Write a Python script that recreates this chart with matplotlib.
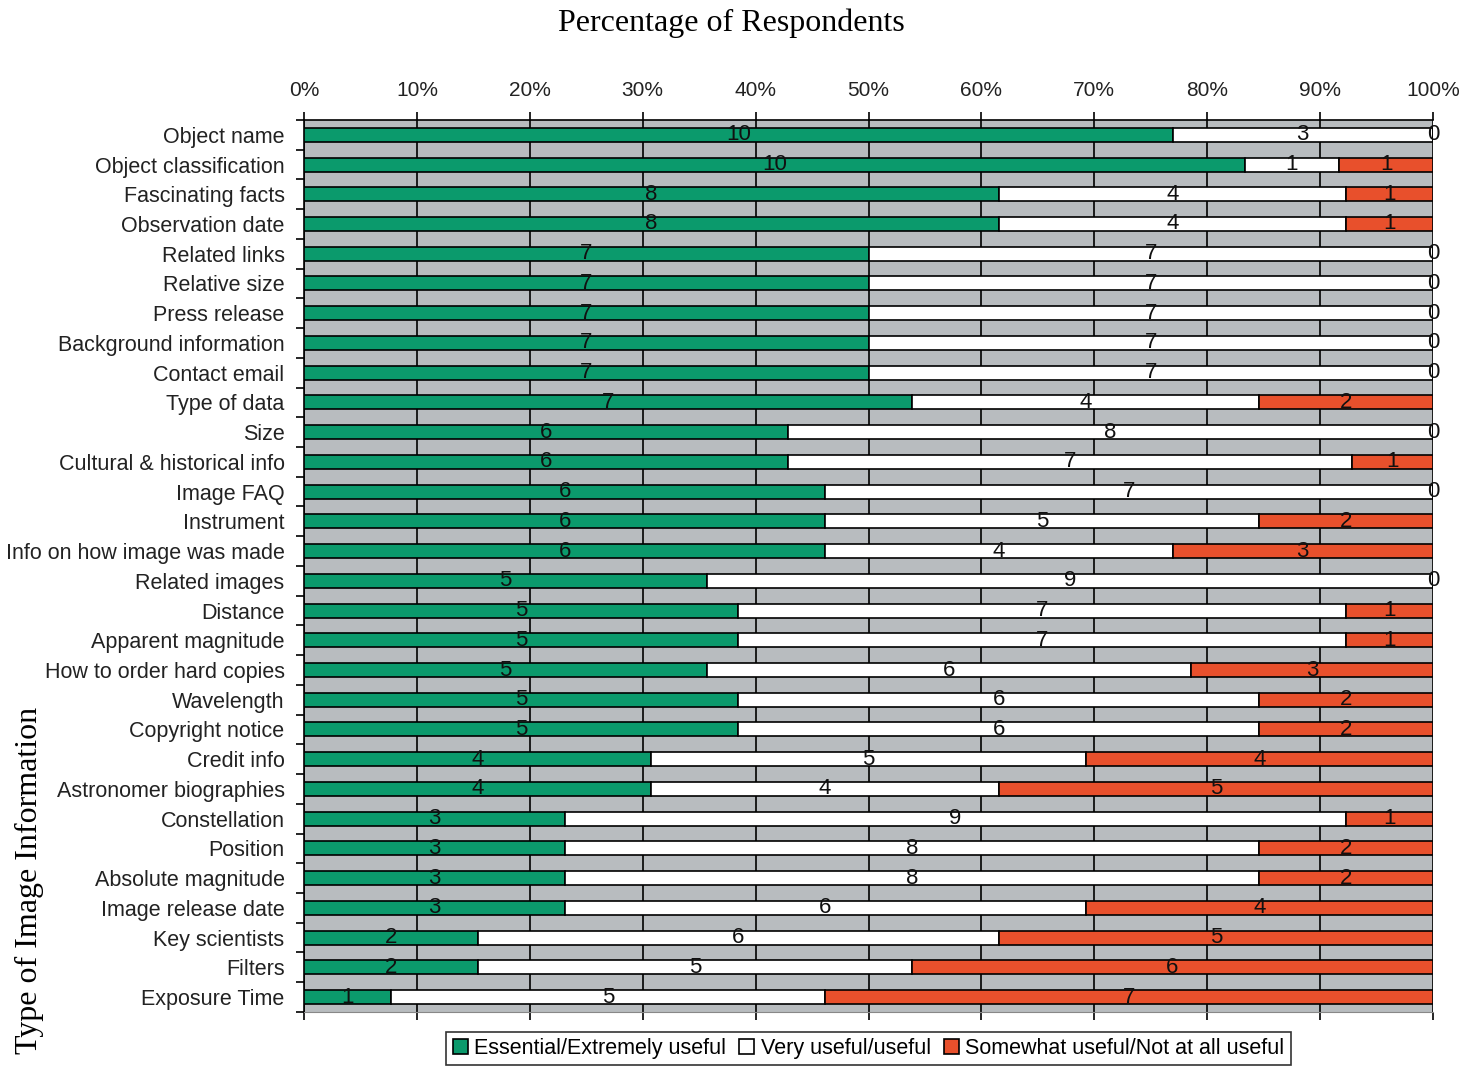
import matplotlib.pyplot as plt
import numpy as np

categories = [
    "Object name", "Object classification", "Fascinating facts", "Observation date",
    "Related links", "Relative size", "Press release", "Background information",
    "Contact email", "Type of data", "Size", "Cultural & historical info",
    "Image FAQ", "Instrument", "Info on how image was made", "Related images",
    "Distance", "Apparent magnitude", "How to order hard copies", "Wavelength",
    "Copyright notice", "Credit info", "Astronomer biographies", "Constellation",
    "Position", "Absolute magnitude", "Image release date", "Key scientists",
    "Filters", "Exposure Time",
]

# number of respondents per rating group
essential = [10, 10, 8, 8, 7, 7, 7, 7, 7, 7, 6, 6, 6, 6, 6, 5, 5, 5, 5, 5, 5, 4, 4, 3, 3, 3, 3, 2, 2, 1]
useful = [3, 1, 4, 4, 7, 7, 7, 7, 7, 4, 8, 7, 7, 5, 4, 9, 7, 7, 6, 6, 6, 5, 4, 9, 8, 8, 6, 6, 5, 5]
not_useful = [0, 1, 1, 1, 0, 0, 0, 0, 0, 2, 0, 1, 0, 2, 3, 0, 1, 1, 3, 2, 2, 4, 5, 1, 2, 2, 4, 5, 6, 7]

series_names = ["Essential/Extremely useful", "Very useful/useful", "Somewhat useful/Not at all useful"]
colors = ["#0b9a6c", "#ffffff", "#e8502c"]
x_ticks = [0, 10, 20, 30, 40, 50, 60, 70, 80, 90, 100]

plt.rcParams["font.family"] = ["Liberation Sans", "DejaVu Sans"]


def plot_data():
    counts = np.array([essential, useful, not_useful], dtype=float)
    pct = counts / counts.sum(axis=0) * 100
    y = np.arange(len(categories))

    fig = plt.figure(figsize=(14.78, 10.67), dpi=100)
    ax = fig.add_axes([0.2057, 0.0516, 0.7639, 0.836])
    ax.set_facecolor("#b8bcbf")

    left = np.zeros(len(categories))
    for i in range(3):
        ax.barh(y, pct[i], left=left, height=0.47, color=colors[i],
                edgecolor="black", linewidth=1.2, label=series_names[i], zorder=3)
        for j in range(len(categories)):
            ax.text(left[j] + pct[i][j] / 2, y[j], str(int(counts[i][j])),
                    ha="center", va="center", fontsize=16, color="#111111", zorder=4)
        left += pct[i]

    ax.set_xlim(0, 100)
    ax.set_ylim(len(categories) - 0.5, -0.5)

    ax.xaxis.tick_top()
    ax.set_xticks(x_ticks)
    ax.set_xticklabels([f"{t}%" for t in x_ticks], fontsize=15, color="#222222")
    ax.tick_params(axis="x", which="major", top=True, bottom=True, direction="out",
                   length=6, width=1.2, pad=8)
    ax.grid(axis="x", color="black", linewidth=1.2, zorder=1)

    ax.set_yticks(y)
    ax.set_yticklabels(categories, fontsize=15.5, color="#222222")
    ax.tick_params(axis="y", which="major", length=0, pad=14)
    ax.set_yticks(np.arange(len(categories) + 1) - 0.5, minor=True)
    ax.tick_params(axis="y", which="minor", length=6, width=1.2, direction="out")

    for side in ["top", "left"]:
        ax.spines[side].set_linewidth(1.2)
    ax.spines["right"].set_visible(False)
    ax.spines["bottom"].set_color("#888888")

    fig.text(0.495, 0.978, "Percentage of Respondents", ha="center", va="center",
             fontsize=23, family="Liberation Serif")
    fig.text(0.02, 0.012, "Type of Image Information", rotation=90, ha="center",
             va="bottom", fontsize=23, family="Liberation Serif")

    leg = ax.legend(loc="upper center", bbox_to_anchor=(0.5, -0.022), ncol=3,
                    fontsize=15.5, frameon=True, fancybox=False, edgecolor="black",
                    handlelength=0.7, handleheight=0.7, handletextpad=0.3,
                    columnspacing=0.6, borderpad=0.3, borderaxespad=0)
    leg.get_frame().set_linewidth(1.2)

    fig.savefig("out.png", dpi=100)


plot_data()
